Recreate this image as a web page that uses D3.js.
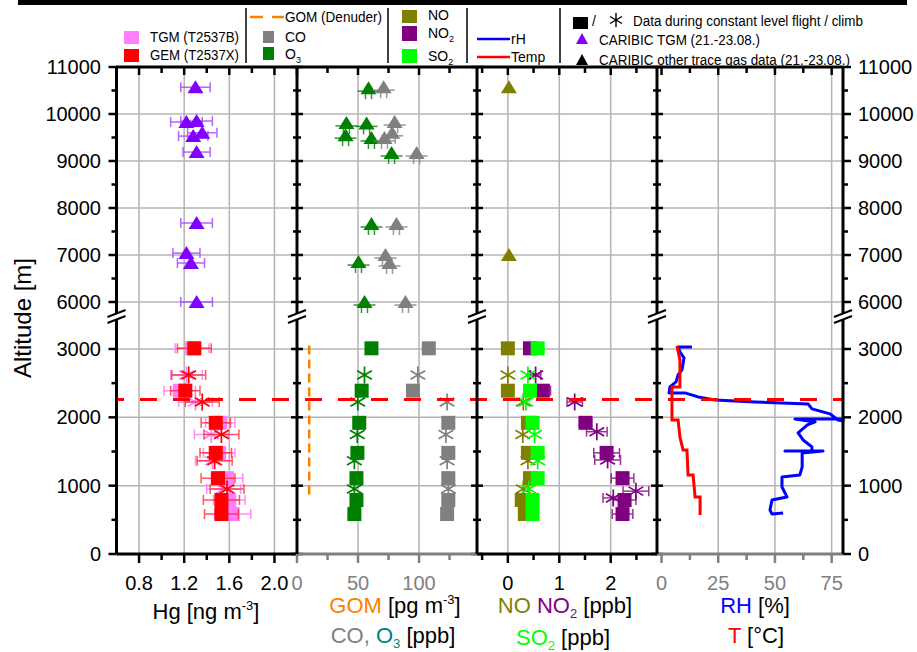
<!DOCTYPE html>
<html><head><meta charset="utf-8">
<script src="https://cdn.jsdelivr.net/npm/d3@7"></script>
<style>body{margin:0;background:#fff;} svg{display:block;font-family:"Liberation Sans",Arial,sans-serif;}</style>
</head><body><svg id="c" width="917" height="652"></svg>
<script>
// ---------------- DATA ----------------
const levelAlt = [3010, 2390, 1920, 1480, 1110, 790, 585];   // constant level flight
const climbAlt = [2620, 2225, 1750, 1365, 950];              // climb
// Hg [ng m-3]
const gemLevel = [1.29, 1.21, 1.48, 1.48, 1.50, 1.53, 1.53];
const gemLevelErr = [0.15, 0.13, 0.13, 0.14, 0.15, 0.16, 0.15];
const tgmLevel = [1.27, 1.16, 1.52, 1.51, 1.58, 1.60, 1.63];
const tgmLevelErr = [0.15, 0.14, 0.13, 0.14, 0.14, 0.14, 0.16];
const gemClimb = [1.24, 1.36, 1.53, 1.47, 1.58];
const gemClimbErr = [0.15, 0.15, 0.155, 0.155, 0.15];
const tgmClimb = [1.22, 1.30, 1.44, 1.45, 1.55];
const tgmClimbErr = [0.14, 0.15, 0.15, 0.15, 0.15];
const caribicTgmAlt = [10570, 9830, 9850, 9600, 9530, 9190, 7680, 7040, 6830, 6000];
const caribicTgm = [1.30, 1.22, 1.31, 1.36, 1.28, 1.31, 1.31, 1.22, 1.26, 1.31];
const caribicTgmErr = [0.13, 0.14, 0.14, 0.13, 0.13, 0.12, 0.14, 0.12, 0.12, 0.14];
// GOM [pg m-3], CO, O3 [ppb]
const gomAlt = [3050, 800];
const gom = [10, 10];
const o3Level = [61, 53, 51, 49.5, 48.7, 48.7, 47];
const coLevel = [108, 95, 124, 124, 124, 124, 123];
const o3Climb = [55.3, 49.8, 49.4, 47, 47];
const coClimb = [99, 123, 122, 123, 124];
const caribicO3Alt = [10550, 9810, 9550, 9800, 9490, 9170, 7660, 6850, 6000];
const caribicO3 = [58.6, 40.5, 39.8, 57, 61, 77.5, 61, 50.4, 55.3];
const caribicCOAlt = [10570, 9830, 9600, 9490, 9170, 7660, 7000, 6830, 6000];
const caribicCO = [71, 80, 78, 71.7, 98, 81.5, 72.5, 75.8, 88.9];
// NO, NO2, SO2 [ppb]
const noLevel = [0.0, 0.0, 0.39, 0.39, 0.43, 0.27, 0.33];
const no2Level = [0.43, 0.68, 1.51, 1.92, 2.23, 2.27, 2.23];
const no2LevelErr = [0.1, 0.15, 0.12, 0.25, 0.22, 0.22, 0.2];
const so2Level = [0.58, 0.43, 0.48, 0.58, 0.58, 0.48, 0.48];
const noClimb = [0.0, 0.30, 0.29, 0.39, 0.30];
const so2Climb = [0.39, 0.35, 0.52, 0.58, 0.41];
const no2ClimbAlt = [2620, 2225, 1790, 1376, 920, 820];
const no2Climb = [0.54, 1.30, 1.73, 1.94, 2.49, 2.05];
const no2ClimbErr = [0.1, 0.15, 0.2, 0.25, 0.25, 0.2];
const caribicNOAlt = [10570, 7000];
const caribicNO = [0.02, 0.02];
// RH [%] and T [°C] profiles
const rhAlt = [3031, 3031, 2958, 2870, 2694, 2621, 2518, 2445, 2357, 2357, 2299, 2255, 2225, 2196, 2123, 2050, 1962, 1947,
               1977, 1977, 1933, 1889, 1772, 1669, 1567, 1508, 1508, 1508, 1479, 1274, 1157, 1127, 981, 835, 791, 644, 586, 600];
const rh = [13.4, 7.3, 8.1, 9.9, 9.0, 7.3, 6.4, 3.7, 3.3, 10.3, 16.1, 23.6, 41.2, 64.6, 66.3, 74.3, 77.8, 80,
            80, 58.8, 67.7, 64.3, 60.2, 62.4, 66.3, 66.3, 54.4, 71.2, 62, 62, 61, 53.1, 53.1, 55.3, 48.7, 47.8, 48.7, 53.6];
const tAlt = [3045, 2840, 2445, 2445, 2372, 1962, 1962, 1713, 1523, 1523, 1157, 1157, 835, 835, 571];
const temp = [6.8, 8.1, 8.1, 4.6, 4.6, 4.6, 7.3, 8.1, 9.5, 11.2, 11.7, 13.9, 14.8, 17, 17];
const boundaryAlt = [2260];
// ticks
const yMajorLow = [0, 1000, 2000, 3000], yMinorLow = [500, 1500, 2500];
const yMajorUp = [6000, 7000, 8000, 9000, 10000, 11000], yMinorUp = [6500, 7500, 8500, 9500, 10500];
const hgTicks = [0.8, 1.2, 1.6, 2.0], hgMinor = [1.0, 1.4, 1.8], hgLabels = ["0.8", "1.2", "1.6", "2.0"];
const coTicks = [0, 50, 100], coMinor = [25, 75, 125], coLabels = ["0", "50", "100"];
const nTicks = [0, 1, 2], nMinor = [-0.5, 0.5, 1.5, 2.5], nLabels = ["0", "1", "2"];
const rhTicks = [0, 25, 50, 75], rhMinor = [12.5, 37.5, 62.5], rhLabels = ["0", "25", "50", "75"];

// ---------------- SETUP ----------------
const svg = d3.select('#c');
svg.append('rect').attr('width', 917).attr('height', 652).attr('fill', '#fff');
const TOP = 67, BOT = 554, BREAKY = 315;
const yLow = d3.scaleLinear().domain([0, 3000]).range([554, 349]);
const yUp = d3.scaleLinear().domain([6000, 11000]).range([302, 67]);
const yA = a => a < 4500 ? yLow(a) : yUp(a);

const P = [
  {x: d3.scaleLinear().domain([0.6, 2.2]).range([116.5, 297]), maj: hgTicks, min: hgMinor, lab: hgLabels, grid: hgTicks, col: '#000'},
  {x: d3.scaleLinear().domain([0, 147.5]).range([297, 477]), maj: coTicks, min: coMinor, lab: coLabels, grid: [50, 100], col: '#808080'},
  {x: d3.scaleLinear().domain([-0.6, 2.9]).range([477, 657]), maj: nTicks, min: nMinor, lab: nLabels, grid: nTicks, col: '#000'},
  {x: d3.scaleLinear().domain([-2, 80]).range([657, 843]), maj: rhTicks, min: rhMinor, lab: rhLabels, grid: [25, 50, 75], col: '#808080'}
];
const GRID = '#b4b4b4';
const gGrid = svg.append('g');
P.forEach(p => {
  const [x0, x1] = p.x.range();
  p.grid.forEach(v => gGrid.append('line').attr('x1', p.x(v)).attr('x2', p.x(v)).attr('y1', TOP).attr('y2', BOT)
    .attr('stroke', GRID).attr('stroke-width', 1.5));
  [1000, 2000, 3000].forEach(a => gGrid.append('line').attr('x1', x0).attr('x2', x1).attr('y1', yLow(a)).attr('y2', yLow(a)).attr('stroke', GRID).attr('stroke-width', 1.5));
  [6000, 7000, 8000, 9000, 10000].forEach(a => gGrid.append('line').attr('x1', x0).attr('x2', x1).attr('y1', yUp(a)).attr('y2', yUp(a)).attr('stroke', GRID).attr('stroke-width', 1.5));
});

// ---------------- MARKERS ----------------
const gM = svg.append('g');
function errBar(x, v, e, y, col, op) {
  const a = x(v - e), b = x(v + e);
  const g = gM.append('g').attr('stroke', col).attr('stroke-width', 1.5).attr('opacity', op || 0.75);
  g.append('line').attr('x1', a).attr('x2', b).attr('y1', y).attr('y2', y);
  g.append('line').attr('x1', a).attr('x2', a).attr('y1', y - 5).attr('y2', y + 5);
  g.append('line').attr('x1', b).attr('x2', b).attr('y1', y - 5).attr('y2', y + 5);
}
function sq(cx, cy, col, s) { s = s || 14; gM.append('rect').attr('x', cx - s / 2).attr('y', cy - s / 2).attr('width', s).attr('height', s).attr('fill', col); }
function tri(cx, cy, col) { gM.append('path').attr('d', `M${cx},${cy - 7}L${cx + 8},${cy + 6}L${cx - 8},${cy + 6}Z`).attr('fill', col); }
function ast(cx, cy, col, r) {
  r = r || 8.5; const c = Math.cos(Math.PI / 6) * r, s = Math.sin(Math.PI / 6) * r;
  gM.append('path').attr('d', `M${cx},${cy - r}L${cx},${cy + r}M${cx - c},${cy - s}L${cx + c},${cy + s}M${cx - c},${cy + s}L${cx + c},${cy - s}`)
    .attr('stroke', col).attr('stroke-width', 1.7).attr('fill', 'none');
}
function treeTri(cx, cy, col) {
  const g = gM.append('g').attr('stroke', col).attr('stroke-width', 1.5).attr('opacity', 0.8);
  g.append('line').attr('x1', cx - 11).attr('x2', cx + 11).attr('y1', cy + 3).attr('y2', cy + 3);
  g.append('line').attr('x1', cx - 3).attr('x2', cx - 3).attr('y1', cy + 4).attr('y2', cy + 11);
  g.append('line').attr('x1', cx + 3).attr('x2', cx + 3).attr('y1', cy + 4).attr('y2', cy + 11);
  tri(cx, cy, col);
}

// Panel 1: Hg
{
  const x = P[0].x;
  caribicTgm.forEach((v, i) => errBar(x, v, caribicTgmErr[i], yA(caribicTgmAlt[i]), '#a040ff', 0.8));
  caribicTgm.forEach((v, i) => tri(x(v), yA(caribicTgmAlt[i]), '#8000ff'));
  tgmLevel.forEach((v, i) => errBar(x, v, tgmLevelErr[i], yA(levelAlt[i]), '#ff80ff', 0.9));
  tgmClimb.forEach((v, i) => errBar(x, v, tgmClimbErr[i], yA(climbAlt[i]), '#ff80ff', 0.9));
  tgmLevel.forEach((v, i) => sq(x(v), yA(levelAlt[i]), '#ff80ff'));
  tgmClimb.forEach((v, i) => ast(x(v), yA(climbAlt[i]), '#ff80ff'));
  gemLevel.forEach((v, i) => errBar(x, v, gemLevelErr[i], yA(levelAlt[i]), '#ff2020', 0.75));
  gemClimb.forEach((v, i) => errBar(x, v, gemClimbErr[i], yA(climbAlt[i]), '#ff2020', 0.75));
  gemLevel.forEach((v, i) => sq(x(v), yA(levelAlt[i]), '#ff0000'));
  gemClimb.forEach((v, i) => ast(x(v), yA(climbAlt[i]), '#ff0000'));
}
// Panel 2: GOM, CO, O3
{
  const x = P[1].x;
  gM.append('path').attr('d', d3.line().x(d => x(d[0])).y(d => yA(d[1]))(gom.map((v, i) => [v, gomAlt[i]])))
    .attr('stroke', '#ff8000').attr('stroke-width', 2.5).attr('stroke-dasharray', '9,5').attr('fill', 'none');
  caribicO3.forEach((v, i) => treeTri(x(v), yA(caribicO3Alt[i]), '#008000'));
  caribicCO.forEach((v, i) => treeTri(x(v), yA(caribicCOAlt[i]), '#808080'));
  o3Level.forEach((v, i) => sq(x(v), yA(levelAlt[i]), '#008000'));
  coLevel.forEach((v, i) => sq(x(v), yA(levelAlt[i]), '#808080'));
  o3Climb.forEach((v, i) => ast(x(v), yA(climbAlt[i]), '#008000'));
  coClimb.forEach((v, i) => ast(x(v), yA(climbAlt[i]), '#808080'));
}
// Panel 3: NO, NO2, SO2
{
  const x = P[2].x;
  caribicNO.forEach((v, i) => tri(x(v), yA(caribicNOAlt[i]), '#808000'));
  noLevel.forEach((v, i) => sq(x(v), yA(levelAlt[i]), '#808000'));
  noClimb.forEach((v, i) => ast(x(v), yA(climbAlt[i]), '#808000'));
  no2Level.forEach((v, i) => errBar(x, v, no2LevelErr[i], yA(levelAlt[i]), '#800080', 0.8));
  no2Climb.forEach((v, i) => errBar(x, v, no2ClimbErr[i], yA(no2ClimbAlt[i]), '#800080', 0.8));
  no2Level.forEach((v, i) => sq(x(v), yA(levelAlt[i]), '#800080'));
  no2Climb.forEach((v, i) => ast(x(v), yA(no2ClimbAlt[i]), '#800080'));
  so2Level.forEach((v, i) => sq(x(v), yA(levelAlt[i]), '#00ff00'));
  so2Climb.forEach((v, i) => ast(x(v), yA(climbAlt[i]), '#00ff00'));
}
// Panel 4: RH, T
{
  const x = P[3].x;
  const ln = d3.line().x(d => x(d[0])).y(d => yA(d[1]));
  gM.append('path').attr('d', ln(rh.map((v, i) => [v, rhAlt[i]]))).attr('stroke', '#0000ff').attr('stroke-width', 3).attr('fill', 'none').attr('stroke-linejoin', 'round');
  gM.append('path').attr('d', ln(temp.map((v, i) => [v, tAlt[i]]))).attr('stroke', '#ff0000').attr('stroke-width', 3).attr('fill', 'none');
}
// boundary dashed line
boundaryAlt.forEach(a => svg.append('line').attr('x1', 116).attr('x2', 843).attr('y1', yA(a)).attr('y2', yA(a))
  .attr('stroke', '#ff0000').attr('stroke-width', 3).attr('stroke-dasharray', '17,16').attr('stroke-dashoffset', 9));

// ---------------- AXES ----------------
const gA = svg.append('g');
const FS = 20;
function vline(x, col, w) { gA.append('line').attr('x1', x).attr('x2', x).attr('y1', TOP).attr('y2', BOT).attr('stroke', col).attr('stroke-width', w); }
const axX = [116.5, 297, 477, 657, 843];
const yMaj = yMajorLow.map(yLow).concat(yMajorUp.map(yUp));
const yMin = yMinorLow.map(yLow).concat(yMinorUp.map(yUp));
axX.forEach((ax, k) => {
  let l1, l2, m1, m2;
  if (k === 0) { l1 = -8; l2 = 0; m1 = -5; m2 = 0; }
  else if (k === 4) { l1 = 0; l2 = 8; m1 = 0; m2 = 5; }
  else { l1 = -6; l2 = 6; m1 = -4; m2 = 4; }
  yMaj.forEach(y => gA.append('line').attr('x1', ax + l1).attr('x2', ax + l2).attr('y1', y).attr('y2', y).attr('stroke', '#000').attr('stroke-width', 2.5));
  yMin.forEach(y => gA.append('line').attr('x1', ax + m1).attr('x2', ax + m2).attr('y1', y).attr('y2', y).attr('stroke', '#000').attr('stroke-width', 2.5));
});
P.forEach((p, k) => {
  const [x0, x1] = p.x.range();
  p.maj.forEach(v => gA.append('line').attr('x1', p.x(v)).attr('x2', p.x(v)).attr('y1', TOP).attr('y2', TOP + 8).attr('stroke', '#000').attr('stroke-width', 2.5));
  p.min.forEach(v => gA.append('line').attr('x1', p.x(v)).attr('x2', p.x(v)).attr('y1', TOP).attr('y2', TOP + 6).attr('stroke', '#000').attr('stroke-width', 2.5));
  p.maj.forEach(v => gA.append('line').attr('x1', p.x(v)).attr('x2', p.x(v)).attr('y1', BOT).attr('y2', BOT + 9).attr('stroke', p.col).attr('stroke-width', 2.5));
  p.min.forEach(v => gA.append('line').attr('x1', p.x(v)).attr('x2', p.x(v)).attr('y1', BOT).attr('y2', BOT + 6).attr('stroke', p.col).attr('stroke-width', 2.5));
  gA.append('line').attr('x1', x0).attr('x2', x1).attr('y1', BOT).attr('y2', BOT).attr('stroke', p.col).attr('stroke-width', 3);
  p.maj.forEach((v, i) => gA.append('text').attr('x', p.x(v)).attr('y', 590).attr('text-anchor', 'middle')
    .attr('font-size', FS).attr('fill', p.col).text(p.lab[i]));
});
gA.append('line').attr('x1', 116).attr('x2', 843).attr('y1', TOP).attr('y2', TOP).attr('stroke', '#000').attr('stroke-width', 3);
axX.forEach(ax => vline(ax, '#000', 3));
const yLabVals = yMajorLow.concat(yMajorUp);
yLabVals.forEach(v => {
  const y = yA(v) + 7;
  gA.append('text').attr('x', 101).attr('y', y).attr('text-anchor', 'end').attr('font-size', FS).text(v);
  gA.append('text').attr('x', 858).attr('y', y).attr('text-anchor', 'start').attr('font-size', FS).text(v);
});
// breaks
axX.forEach(ax => {
  const g = gA.append('g');
  g.append('path').attr('d', `M${ax - 9},${BREAKY + 2}L${ax + 9},${BREAKY - 5}L${ax + 9},${BREAKY + 1}L${ax - 9},${BREAKY + 8}Z`).attr('fill', '#fff');
  g.append('line').attr('x1', ax - 9).attr('x2', ax + 9).attr('y1', BREAKY + 2).attr('y2', BREAKY - 5).attr('stroke', '#000').attr('stroke-width', 2);
  g.append('line').attr('x1', ax - 9).attr('x2', ax + 9).attr('y1', BREAKY + 8).attr('y2', BREAKY + 1).attr('stroke', '#000').attr('stroke-width', 2);
});
// axis titles
svg.append('text').attr('transform', 'translate(31,318) rotate(-90)').attr('text-anchor', 'middle').attr('font-size', 24).text('Altitude [m]');
function rich(x, y, parts, size) {
  const t = svg.append('text').attr('x', x).attr('y', y).attr('text-anchor', 'middle').attr('font-size', size || 22);
  parts.forEach(p => {
    const s = t.append('tspan').attr('fill', p.c || '#000').text(p.t);
    if (p.sub) s.attr('font-size', 13).attr('dy', 5);
    if (p.sup) s.attr('font-size', 13).attr('dy', -9);
    if (p.back) s.attr('dy', p.back);
  });
  return t;
}
rich(206, 619, [{t: 'Hg [ng m'}, {t: '-3', sup: 1}, {t: ']', back: 9}]);
rich(395, 613, [{t: 'GOM', c: '#ff8000'}, {t: ' [pg m'}, {t: '-3', sup: 1}, {t: ']', back: 9}]);
rich(393, 643, [{t: 'CO, ', c: '#808080'}, {t: 'O', c: '#008080'}, {t: '3', sub: 1, c: '#008080'}, {t: ' [ppb]', back: -5}]);
rich(565, 613, [{t: 'NO ', c: '#808000'}, {t: 'NO', c: '#800080'}, {t: '2', sub: 1, c: '#800080'}, {t: ' [ppb]', back: -5}]);
rich(563, 645, [{t: 'SO', c: '#00ff00'}, {t: '2', sub: 1, c: '#00ff00'}, {t: ' [ppb]', back: -5}]);
rich(755, 613, [{t: 'RH', c: '#0000ff'}, {t: ' [%]'}]);
rich(756, 643, [{t: 'T', c: '#ff0000'}, {t: ' [°C]'}]);

// ---------------- LEGEND ----------------
const gL = svg.append('g').attr('font-size', 14);
svg.append('rect').attr('x', 18).attr('y', 0).attr('width', 889).attr('height', 5).attr('fill', '#000');
[246, 388, 467, 560].forEach(x => gL.append('line').attr('x1', x).attr('x2', x).attr('y1', 8).attr('y2', 63).attr('stroke', '#000').attr('stroke-width', 1.5));
function ltext(x, y, parts, len) {
  const t = gL.append('text').attr('x', x).attr('y', y);
  parts.forEach(p => { const s = t.append('tspan').text(p.t); if (p.sub) s.attr('font-size', 9).attr('dy', 4); });
  if (len) t.attr('textLength', len).attr('lengthAdjust', 'spacingAndGlyphs');
}
gL.append('rect').attr('x', 124).attr('y', 31).attr('width', 15).attr('height', 13).attr('fill', '#ff80ff');
ltext(150, 42, [{t: 'TGM (T2537B)'}], 89);
gL.append('rect').attr('x', 124).attr('y', 49).attr('width', 15).attr('height', 13).attr('fill', '#ff0000');
ltext(150, 60, [{t: 'GEM (T2537X)'}], 89);
gL.append('line').attr('x1', 250).attr('x2', 284).attr('y1', 17).attr('y2', 17).attr('stroke', '#ff8000').attr('stroke-width', 2.5).attr('stroke-dasharray', '13,9');
ltext(285, 22, [{t: 'GOM (Denuder)'}], 97);
gL.append('rect').attr('x', 263).attr('y', 31).attr('width', 11).attr('height', 12).attr('fill', '#808080');
ltext(285, 42, [{t: 'CO'}]);
gL.append('rect').attr('x', 263).attr('y', 47).attr('width', 11).attr('height', 13).attr('fill', '#008000');
ltext(285, 59, [{t: 'O'}, {t: '3', sub: 1}]);
gL.append('rect').attr('x', 402).attr('y', 10).attr('width', 15).attr('height', 13).attr('fill', '#808000');
ltext(428, 20, [{t: 'NO'}]);
gL.append('rect').attr('x', 402).attr('y', 26).attr('width', 15).attr('height', 15).attr('fill', '#800080');
ltext(428, 38, [{t: 'NO'}, {t: '2', sub: 1}]);
gL.append('rect').attr('x', 402).attr('y', 49).attr('width', 15).attr('height', 14).attr('fill', '#00ff00');
ltext(428, 61, [{t: 'SO'}, {t: '2', sub: 1}]);
gL.append('line').attr('x1', 477).attr('x2', 510).attr('y1', 39).attr('y2', 39).attr('stroke', '#0000ff').attr('stroke-width', 2.5);
ltext(511, 44, [{t: 'rH'}]);
gL.append('line').attr('x1', 477).attr('x2', 510).attr('y1', 57).attr('y2', 57).attr('stroke', '#ff0000').attr('stroke-width', 2.5);
ltext(511, 62, [{t: 'Temp'}]);
gL.append('rect').attr('x', 573).attr('y', 17).attr('width', 15).attr('height', 12).attr('fill', '#000');
ltext(592, 26, [{t: '/'}]);
{ const r = 7, c = Math.cos(Math.PI / 6) * r, s = Math.sin(Math.PI / 6) * r, cx = 616, cy = 20;
  gL.append('path').attr('d', `M${cx},${cy - r}L${cx},${cy + r}M${cx - c},${cy - s}L${cx + c},${cy + s}M${cx - c},${cy + s}L${cx + c},${cy - s}`).attr('stroke', '#000').attr('stroke-width', 1.4); }
ltext(633, 26, [{t: 'Data during constant level flight / climb'}], 230);
gL.append('path').attr('d', 'M582,33L588,44L576,44Z').attr('fill', '#8000ff');
ltext(599, 45, [{t: 'CARIBIC TGM (21.-23.08.)'}], 161);
gL.append('path').attr('d', 'M582,54L588,65L576,65Z').attr('fill', '#000');
ltext(599, 65, [{t: 'CARIBIC other trace gas data (21.-23.08.)'}], 251);
</script></body></html>
